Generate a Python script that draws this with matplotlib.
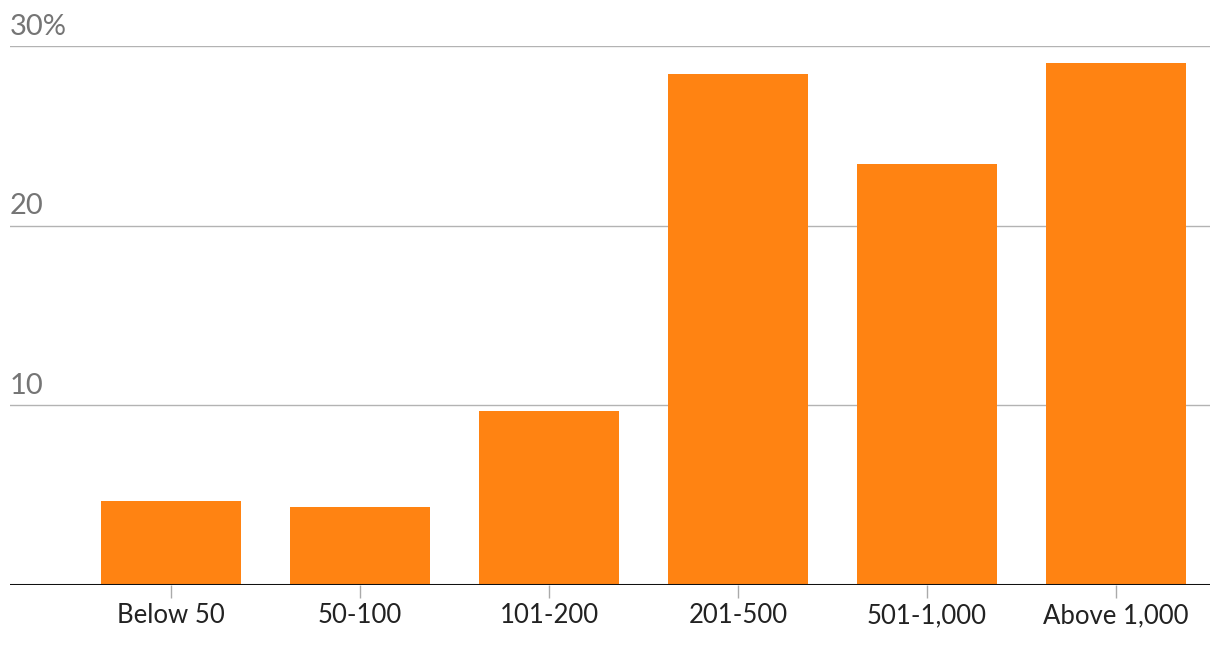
import numpy as np
import matplotlib.pyplot as plt

categories = ["Below 50", "50-100", "101-200", "201-500", "501-1,000", "Above 1,000"]
shares = [4.67, 4.33, 9.67, 28.45, 23.45, 29.05]
yticks = [10, 20, 30]
ytick_labels = ["10", "20", "30%"]

plt.rcParams['font.family'] = ['Lato', 'DejaVu Sans']

fig = plt.figure(figsize=(12.2, 6.46), dpi=100)
ax = fig.add_axes([10 / 1220, 61 / 646, 1200 / 1220, 539 / 646])

x = np.arange(len(categories))
ax.bar(x, shares, width=140 / 189, color="#FF8312", zorder=2)

ax.set_xlim(-161 / 189, 5 + 94 / 189)
ax.set_ylim(0, 30)

# gridlines with labels sitting above them
for v, lab in zip(yticks, ytick_labels):
    ax.axhline(v, color="#b3b3b3", lw=1, zorder=1)
    ax.text(0, v + 0.35, lab, transform=ax.get_yaxis_transform(),
            ha="left", va="bottom", fontsize=21, color="#757575")

ax.axhline(0, color="#111111", lw=2.2, zorder=3)

for s in ax.spines.values():
    s.set_visible(False)
ax.set_yticks([])
ax.set_xticks(x)
ax.set_xticklabels(categories, fontsize=18.5, color="#222222")
ax.tick_params(axis="x", length=9, width=1, color="#aaaaaa", pad=4)

fig.savefig("out.png", dpi=100)
